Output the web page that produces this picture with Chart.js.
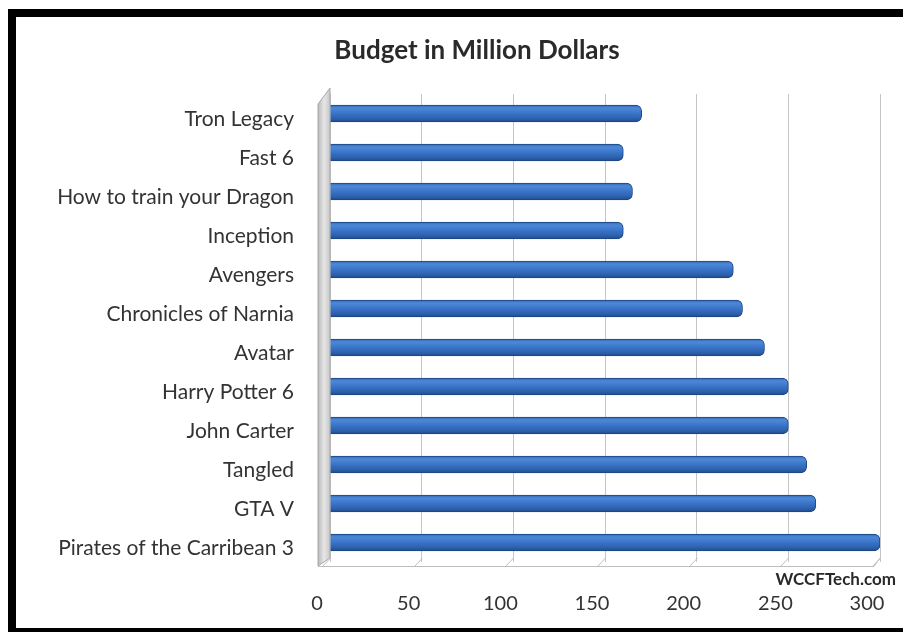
<!DOCTYPE html>
<html>
<head>
<meta charset="utf-8">
<script src="https://cdn.jsdelivr.net/npm/chart.js@4.4.1/dist/chart.umd.min.js"></script>
<style>
  html, body { margin: 0; padding: 0; background: #fff; }
  #wrap { position: relative; width: 903px; height: 632px; overflow: hidden; }
  #c { position: absolute; left: 0; top: 0; }
  #frame { position: absolute; left: 8px; top: 9px; width: 1000px; height: 611px;
           border-left: 8px solid #000; border-top: 8px solid #000; border-bottom: 8px solid #000;
           pointer-events: none; }
</style>
</head>
<body>
<div id="wrap">
  <canvas id="c" width="903" height="632"></canvas>
  <div id="frame"></div>
</div>
<script>
const chartTitle = "Budget in Million Dollars";
const watermark = "WCCFTech.com";
const categories = ["Tron Legacy", "Fast 6", "How to train your Dragon", "Inception", "Avengers",
  "Chronicles of Narnia", "Avatar", "Harry Potter 6", "John Carter", "Tangled", "GTA V",
  "Pirates of the Carribean 3"];
const budgets = [170, 160, 165, 160, 220, 225, 237, 250, 250, 260, 265, 300];
const xTicks = [0, 50, 100, 150, 200, 250, 300];

const FONT = "Lato, 'Open Sans', sans-serif";

const barFill = (ctx) => {
  const chart = ctx.chart;
  const ys = chart.scales && chart.scales.y;
  if (!ys || ctx.dataIndex === undefined) return '#2f6cc0';
  const cy = ys.getPixelForValue(ctx.dataIndex);
  if (!isFinite(cy)) return '#2f6cc0';
  const h = 9;
  const g = chart.ctx.createLinearGradient(0, cy - h, 0, cy + h);
  g.addColorStop(0, '#2d63ad');
  g.addColorStop(0.2, '#4d88d8');
  g.addColorStop(0.5, '#3a74c8');
  g.addColorStop(0.82, '#2a5ea8');
  g.addColorStop(1, '#1c4382');
  return g;
};

const decor = {
  id: 'decor',
  beforeDatasetsDraw(chart) {
    const c = chart.ctx, a = chart.chartArea, xs = chart.scales.x;
    c.save();
    const wg = c.createLinearGradient(a.left - 12, 0, a.left, 0);
    wg.addColorStop(0, '#b8b8b8');
    wg.addColorStop(0.5, '#e6e6e6');
    wg.addColorStop(1, '#c9c9c9');
    c.fillStyle = wg;
    c.beginPath();
    c.moveTo(a.left - 12, a.top + 10);
    c.lineTo(a.left, a.top - 6);
    c.lineTo(a.left, a.bottom - 4);
    c.lineTo(a.left - 12, a.bottom + 4);
    c.closePath();
    c.fill();
    c.strokeStyle = '#a8a8a8';
    c.lineWidth = 1;
    c.stroke();
    c.strokeStyle = '#bdbdbd';
    c.beginPath();
    c.moveTo(a.left - 12, a.bottom + 4.5);
    c.lineTo(a.right - 6, a.bottom + 4.5);
    c.lineTo(a.right, a.bottom - 4);
    c.stroke();
    xTicks.forEach(v => {
      const px = Math.round(xs.getPixelForValue(v)) + 0.5;
      c.beginPath();
      c.moveTo(px, a.bottom - 4);
      c.lineTo(px - 8, a.bottom + 4.5);
      c.stroke();
    });
    c.restore();
  },
  afterDraw(chart) {
    const c = chart.ctx;
    c.save();
    c.fillStyle = '#2a2a2a';
    c.textAlign = 'center';
    c.textBaseline = 'middle';
    c.font = "bold 26px " + FONT;
    c.fillText(chartTitle, 477, 51);
    c.textAlign = 'right';
    c.font = "bold 17px " + FONT;
    c.fillText(watermark, 896, 580);
    c.restore();
  }
};

new Chart(document.getElementById('c'), {
  type: 'bar',
  data: {
    labels: categories,
    datasets: [{
      data: budgets,
      backgroundColor: barFill,
      borderColor: '#1d4684',
      borderWidth: 1,
      borderSkipped: 'start',
      borderRadius: 6,
      barThickness: 17
    }]
  },
  options: {
    indexAxis: 'y',
    responsive: false,
    animation: false,
    events: [],
    layout: { padding: { left: 50, right: 23, top: 94, bottom: 0 } },
    plugins: { legend: { display: false }, title: { display: false }, tooltip: { enabled: false } },
    scales: {
      x: {
        min: 0, max: 300,
        afterBuildTicks: (s) => { s.ticks = xTicks.map(v => ({ value: v })); },
        afterFit: (s) => { s.height = 70; s.paddingLeft = 0; s.paddingRight = 0; },
        grid: { color: '#c6c6c6', drawTicks: false, lineWidth: 1 },
        border: { display: false },
        ticks: { color: '#333333', font: { family: FONT, size: 20 }, padding: 30, labelOffset: -13 }
      },
      y: {
        afterFit: (s) => { s.width = 280; s.paddingTop = 0; s.paddingBottom = 0; },
        grid: { display: false, drawTicks: false },
        border: { display: false },
        ticks: { color: '#333333', font: { family: FONT, size: 21 }, padding: 36, labelOffset: 6 }
      }
    }
  },
  plugins: [decor]
});
</script>
</body>
</html>
